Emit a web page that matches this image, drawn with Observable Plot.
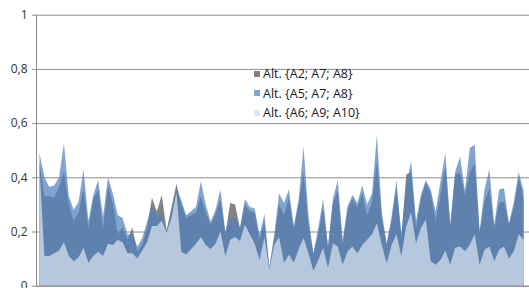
<!DOCTYPE html>
<html>
<head>
<meta charset="utf-8">
<script src="https://cdn.jsdelivr.net/npm/d3@7"></script>
<script src="https://cdn.jsdelivr.net/npm/@observablehq/plot@0.6"></script>
<style>
  html, body { margin: 0; padding: 0; background: #fff; }
  #wrap { position: relative; width: 529px; height: 288px; overflow: hidden; font-family: "Open Sans", sans-serif; }
  #legend { position: absolute; left: 254px; top: 64px; font-size: 12.5px; color: #1a1a1a; }
  #legend .row { display: flex; align-items: center; height: 19.5px; white-space: nowrap; }
  #legend .sw { width: 6px; height: 6px; margin-right: 3px; }
</style>
</head>
<body>
<div id="wrap"><div id="legend"></div></div>
<script>
// Series names (legend)
const seriesNames = ["Alt. {A2; A7; A8}", "Alt. {A5; A7; A8}", "Alt. {A6; A9; A10}"];
// Y-axis tick values
const yTicks = [0, 0.2, 0.4, 0.6, 0.8, 1];

// Series 1: Alt. {A2; A7; A8}
const seriesA2 = [
  0.45, 0.33, 0.33, 0.325, 0.365, 0.42, 0.30, 0.24, 0.27, 0.36,
  0.21, 0.32, 0.355, 0.21, 0.37, 0.305, 0.19, 0.215, 0.17, 0.215,
  0.125, 0.15, 0.215, 0.325, 0.275, 0.335, 0.205, 0.29, 0.375, 0.30,
  0.25, 0.26, 0.27, 0.33, 0.27, 0.225, 0.265, 0.32, 0.19, 0.305,
  0.30, 0.21, 0.30, 0.275, 0.27, 0.17, 0.235, 0.065, 0.17, 0.30,
  0.26, 0.325, 0.21, 0.30, 0.42, 0.225, 0.115, 0.19, 0.29, 0.14,
  0.305, 0.35, 0.15, 0.28, 0.32, 0.29, 0.34, 0.26, 0.31, 0.46,
  0.25, 0.15, 0.24, 0.36, 0.18, 0.41, 0.42, 0.213, 0.32, 0.38,
  0.34, 0.24, 0.336, 0.44, 0.22, 0.41, 0.416, 0.336, 0.42, 0.45,
  0.195, 0.31, 0.36, 0.213, 0.305, 0.31, 0.225, 0.29, 0.40, 0.32
];
// Series 2: Alt. {A5; A7; A8}
const seriesA5 = [
  0.49, 0.40, 0.365, 0.37, 0.40, 0.525, 0.33, 0.28, 0.31, 0.43,
  0.24, 0.335, 0.39, 0.255, 0.40, 0.34, 0.26, 0.25, 0.19, 0.19,
  0.145, 0.175, 0.235, 0.30, 0.26, 0.265, 0.195, 0.275, 0.36, 0.315,
  0.26, 0.275, 0.29, 0.385, 0.30, 0.237, 0.28, 0.355, 0.20, 0.25,
  0.25, 0.215, 0.32, 0.29, 0.285, 0.19, 0.265, 0.07, 0.19, 0.34,
  0.305, 0.355, 0.22, 0.32, 0.514, 0.26, 0.12, 0.213, 0.32, 0.145,
  0.32, 0.39, 0.17, 0.293, 0.336, 0.305, 0.37, 0.30, 0.34, 0.556,
  0.27, 0.158, 0.255, 0.39, 0.19, 0.37, 0.46, 0.24, 0.336, 0.39,
  0.355, 0.274, 0.385, 0.49, 0.225, 0.42, 0.477, 0.35, 0.508, 0.52,
  0.20, 0.355, 0.43, 0.225, 0.355, 0.36, 0.23, 0.31, 0.42, 0.35
];
// Series 3: Alt. {A6; A9; A10}
const seriesA6 = [
  0.44, 0.11, 0.11, 0.12, 0.13, 0.16, 0.11, 0.09, 0.105, 0.14,
  0.085, 0.11, 0.125, 0.11, 0.155, 0.15, 0.17, 0.16, 0.12, 0.12,
  0.10, 0.13, 0.16, 0.22, 0.22, 0.24, 0.195, 0.25, 0.345, 0.125,
  0.115, 0.135, 0.155, 0.18, 0.15, 0.135, 0.155, 0.20, 0.11, 0.17,
  0.18, 0.165, 0.225, 0.19, 0.155, 0.095, 0.18, 0.06, 0.15, 0.18,
  0.085, 0.115, 0.085, 0.135, 0.176, 0.12, 0.055, 0.095, 0.14, 0.065,
  0.157, 0.145, 0.077, 0.127, 0.145, 0.12, 0.15, 0.17, 0.19, 0.23,
  0.15, 0.083, 0.15, 0.19, 0.108, 0.22, 0.27, 0.157, 0.213, 0.244,
  0.09, 0.077, 0.095, 0.13, 0.077, 0.14, 0.145, 0.127, 0.151, 0.19,
  0.077, 0.133, 0.145, 0.09, 0.133, 0.145, 0.10, 0.127, 0.19, 0.17
];

const fills = ["#6e6e6e", "#4f81bd", "#dce6f2"];
const opac = [0.85, 0.72, 0.7];
const swatch = ["#808080", "#7fa3d2", "#dfe7f3"];

const data = seriesA2.map((v, i) => ({ i, a: v, b: seriesA5[i], c: seriesA6[i] }));
const xDomain = [-0.716, 100.104];
const grid = "#8c8c8c";

const chart = Plot.plot({
  width: 529,
  height: 288,
  marginLeft: 36,
  marginRight: 0,
  marginTop: 14.7,
  marginBottom: 2.3,
  style: { fontFamily: "Open Sans, sans-serif", background: "#fff" },
  x: { domain: xDomain, axis: null },
  y: { domain: [0, 1], axis: null },
  marks: [
    Plot.ruleY(yTicks, { stroke: grid }),
    Plot.areaY(data, { x: "i", y: "a", fill: fills[0], fillOpacity: opac[0] }),
    Plot.areaY(data, { x: "i", y: "b", fill: fills[1], fillOpacity: opac[1] }),
    Plot.areaY(data, { x: "i", y: "c", fill: fills[2], fillOpacity: opac[2] }),
    Plot.ruleY([0], { stroke: grid }),
    Plot.ruleX([xDomain[0]], { stroke: grid }),
    Plot.axisY(yTicks, {
      tickSize: 4,
      tickPadding: 5,
      tickFormat: d => String(d).replace(".", ","),
      stroke: grid,
      fill: "#333",
      fontSize: 12
    })
  ]
});
document.getElementById("wrap").prepend(chart);

const legend = document.getElementById("legend");
seriesNames.forEach((name, k) => {
  const row = document.createElement("div");
  row.className = "row";
  const sw = document.createElement("span");
  sw.className = "sw";
  sw.style.background = swatch[k];
  const t = document.createElement("span");
  t.textContent = name;
  row.append(sw, t);
  legend.append(row);
});
</script>
</body>
</html>
